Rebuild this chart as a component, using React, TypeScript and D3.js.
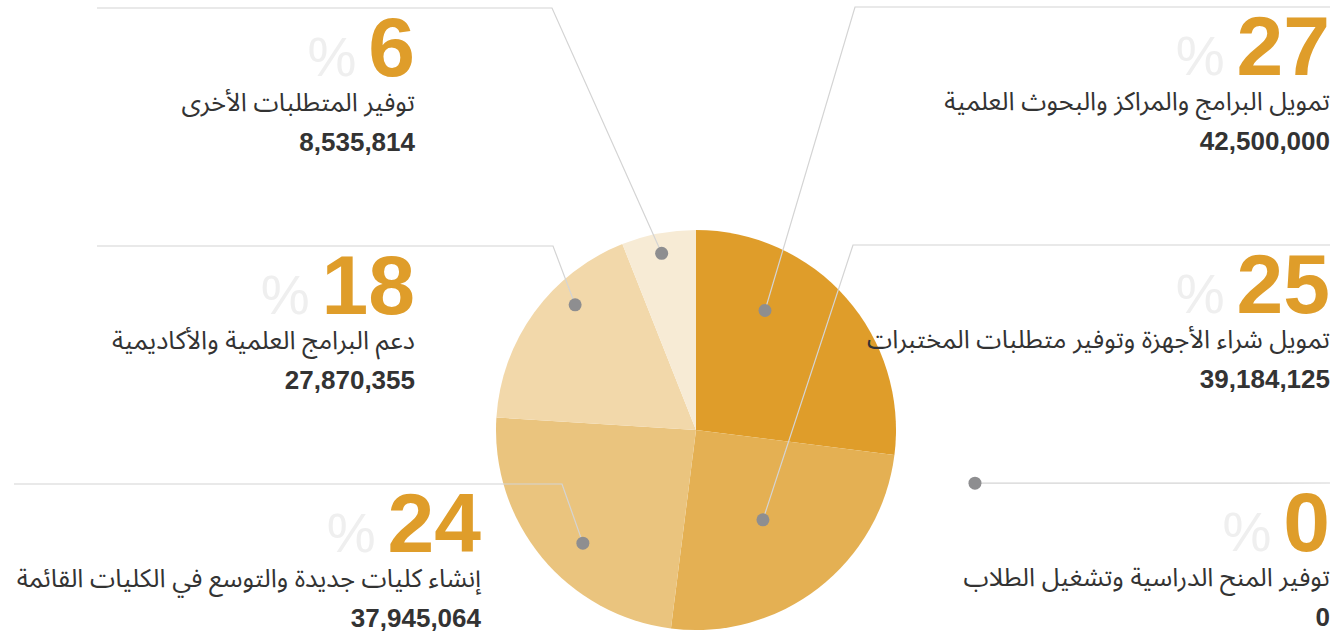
import React from "react";
import * as d3 from "d3";

const categories = [
  "تمويل البرامج والمراكز والبحوث العلمية",
  "تمويل شراء الأجهزة وتوفير متطلبات المختبرات",
  "إنشاء كليات جديدة والتوسع في الكليات القائمة",
  "دعم البرامج العلمية والأكاديمية",
  "توفير المتطلبات الأخرى",
  "توفير المنح الدراسية وتشغيل الطلاب",
];
const amounts = [42500000, 39184125, 37945064, 27870355, 8535814, 0];
const percents = [27, 25, 24, 18, 6, 0];
const sliceColors = ["#df9d2a", "#e4b053", "#eac47e", "#f2d8aa", "#f7ebd5", "#fbf5ea"];

// annotation layout (positions of label blocks and leader anchors)
const dotPolar = [
  { deg: 30, r: 0.69 },
  { deg: 143.3, r: 0.56 },
  { deg: 225, r: 0.8 },
  { deg: 316, r: 0.87 },
  { deg: 349, r: 0.9 },
  { deg: 100.8, r: 1.42 },
];
const labelLayout = [
  { textX: 1330, ruleY: 7, elbowX: 855, endX: 1330 },
  { textX: 1330, ruleY: 245, elbowX: 853, endX: 1330 },
  { textX: 481, ruleY: 484, elbowX: 562, endX: 14 },
  { textX: 415, ruleY: 246, elbowX: 553, endX: 97 },
  { textX: 415, ruleY: 8, elbowX: 552, endX: 97 },
  { textX: 1330, ruleY: 483, elbowX: null as number | null, endX: 1330 },
];

const W = 1334;
const H = 632;
const cx = 696;
const cy = 430;
const R = 200;

const NUM_FONT = "'Liberation Sans', Arial, Helvetica, sans-serif";
const AR_FONT = "'Noto Sans Arabic', 'DejaVu Sans', 'Noto Sans', sans-serif";

export default function App() {
  const pie = d3
    .pie<number>()
    .sort(null)
    .value((d) => d);
  const arcs = pie(percents);
  const arcGen = d3
    .arc<d3.PieArcDatum<number>>()
    .innerRadius(0)
    .outerRadius(R);

  const fmt = d3.format(",");
  const rScale = d3.scaleLinear().domain([0, 1]).range([0, R]);

  const dots = dotPolar.map((p) => {
    const a = (p.deg * Math.PI) / 180;
    const rr = rScale(p.r);
    return { x: cx + rr * Math.sin(a), y: cy - rr * Math.cos(a) };
  });

  const bigSize = 84;
  const digitW = 0.556 * bigSize;

  return (
    <svg
      width={W}
      height={H}
      style={{ position: "absolute", left: 0, top: 0, background: "#fff" }}
    >
      <g transform={`translate(${cx},${cy})`}>
        {arcs.map((a, i) =>
          a.endAngle - a.startAngle > 0 ? (
            <path key={i} d={arcGen(a) || ""} fill={sliceColors[i]} />
          ) : null
        )}
      </g>

      {categories.map((cat, i) => {
        const L = labelLayout[i];
        const d = dots[i];
        const pts =
          L.elbowX === null
            ? [
                [d.x, d.y],
                [L.endX, L.ruleY],
              ]
            : [
                [d.x, d.y],
                [L.elbowX, L.ruleY],
                [L.endX, L.ruleY],
              ];
        const line = d3.line()(pts as [number, number][]) || "";
        const numStr = String(percents[i]);
        const numW = numStr.length * digitW;
        return (
          <g key={i}>
            <path d={line} fill="none" stroke="#d4d4d4" strokeWidth={1.2} />
            <text
              x={L.textX - numW - 12}
              y={L.ruleY + 68}
              textAnchor="end"
              fontFamily={NUM_FONT}
              fontSize={55}
              fill="#efefef"
            >
              %
            </text>
            <text
              x={L.textX}
              y={L.ruleY + 68}
              textAnchor="end"
              fontFamily={NUM_FONT}
              fontWeight="bold"
              fontSize={bigSize}
              fill="#df9d2a"
            >
              {numStr}
            </text>
            <text
              x={L.textX}
              y={L.ruleY + 103}
              textAnchor="end"
              fontFamily={AR_FONT}
              fontSize={25.5}
              fill="#333"
            >
              {cat}
            </text>
            <text
              x={L.textX}
              y={L.ruleY + 143}
              textAnchor="end"
              fontFamily={NUM_FONT}
              fontWeight="bold"
              fontSize={26}
              fill="#333"
            >
              {fmt(amounts[i])}
            </text>
          </g>
        );
      })}

      {dots.map((d, i) => (
        <circle key={i} cx={d.x} cy={d.y} r={6.5} fill="#8e8e90" />
      ))}
    </svg>
  );
}
